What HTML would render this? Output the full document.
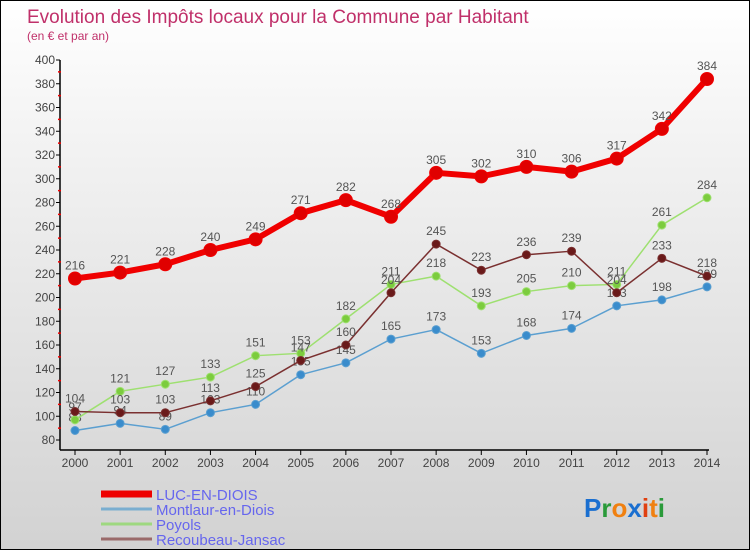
<!DOCTYPE html>
<html><head><meta charset="utf-8"><style>
body{margin:0}
#wrap{width:748px;height:548px;border:1px solid #000;background:linear-gradient(#fff,#f3f3f3 25%,#d2d2d2);position:relative;overflow:hidden;font-family:"Liberation Sans",sans-serif}
</style></head><body>
<div id="wrap">
<svg id="chart" width="748" height="548"></svg>
</div>
<script>
const years=[2000,2001,2002,2003,2004,2005,2006,2007,2008,2009,2010,2011,2012,2013,2014];
const luc=[216,221,228,240,249,271,282,268,305,302,310,306,317,342,384];
const montlaur=[88,94,89,103,110,135,145,165,173,153,168,174,193,198,209];
const poyols=[97,121,127,133,151,153,182,211,218,193,205,210,211,261,284];
const recoubeau=[104,103,103,113,125,147,160,204,245,223,236,239,204,233,218];
const yTicks=[80,100,120,140,160,180,200,220,240,260,280,300,320,340,360,380,400];
const seriesNames=["LUC-EN-DIOIS","Montlaur-en-Diois","Poyols","Recoubeau-Jansac"];

const NS="http://www.w3.org/2000/svg";
const svg=document.getElementById('chart');
function el(t,a,txt){const e=document.createElementNS(NS,t);for(const k in a)e.setAttribute(k,a[k]);if(txt!==undefined)e.textContent=txt;svg.appendChild(e);return e;}
const x=i=>74+i*(706-74)/(years.length-1);
const y=v=>439-(v-80)*(439-59)/(400-80);

let t=el('text',{x:26,y:22,fill:'#c0306a','font-size':19},'Evolution des Impôts locaux pour la Commune par Habitant');

t=el('text',{x:26,y:39,fill:'#c0306a','font-size':12},'(en € et par an)');


let a=el('line',{x1:59,y1:59,x2:59,y2:449,stroke:'#000','stroke-width':1.5});

a=el('line',{x1:59,y1:449,x2:708,y2:449,stroke:'#000','stroke-width':1.5});

yTicks.forEach((v,i)=>{
  el('line',{x1:55,y1:y(v),x2:59,y2:y(v),stroke:'#000'});
  if(i<yTicks.length-1){el('line',{x1:57,y1:y(v+10),x2:60,y2:y(v+10),stroke:'#e00','stroke-width':1.5});}
  const l=el('text',{x:54,y:y(v)+4,'text-anchor':'end','font-size':12,fill:'#444'},v);
  
});
years.forEach((yr,i)=>{
  el('line',{x1:x(i),y1:449,x2:x(i),y2:454,stroke:'#000'});
  const l=el('text',{x:x(i),y:466,'text-anchor':'middle','font-size':12,fill:'#444'},yr);
  
});

function series(data,color,dot,w,r,name,fs){
  const p=el('polyline',{points:data.map((v,i)=>x(i)+','+y(v)).join(' '),fill:'none',stroke:color,'stroke-width':w,'stroke-linejoin':'round'});
  
  data.forEach((v,i)=>{
    const c=el('circle',{cx:x(i),cy:y(v),r:r,fill:dot,stroke:color,'stroke-width':1});
    
    const l=el('text',{x:x(i),y:y(v)-9,'text-anchor':'middle','font-size':fs,fill:'#555'},v);
    
  });
}
series(montlaur,'#5b9fd0','#3a8ccc',1.5,4,'montlaur',12);
series(poyols,'#9ee070','#7ccc3e',1.5,4,'poyols',12);
series(recoubeau,'#7a3030','#6a1a1a',1.5,4,'recoubeau',12);
series(luc,'#f00000','#e00000',6,6.5,'luc-en-diois',12);

const lc=['#ee0000','#7aaed0','#9ed880','#9a6a6a'];const lw=[7,3,3,3];
seriesNames.forEach((n,i)=>{
  const yy=493+i*15;
  const ln=el('line',{x1:100,y1:yy,x2:151,y2:yy,stroke:lc[i],'stroke-width':lw[i]});
  
  const tx=el('text',{x:155,y:yy+6,'font-size':15,fill:'#6666ee'},n);
  
});
const g=el('text',{x:583,y:516,'font-size':26,'font-weight':'bold'});

[['P','#1a6fd0'],['r','#2a9a3a'],['o','#f08010'],['x','#1a6fd0'],['i','#e04010'],['t','#f08010'],['i','#2a9a3a']].forEach(([c,f])=>{
  const s=document.createElementNS(NS,'tspan');s.setAttribute('fill',f);s.textContent=c;g.appendChild(s);
});
</script>
</body></html>
